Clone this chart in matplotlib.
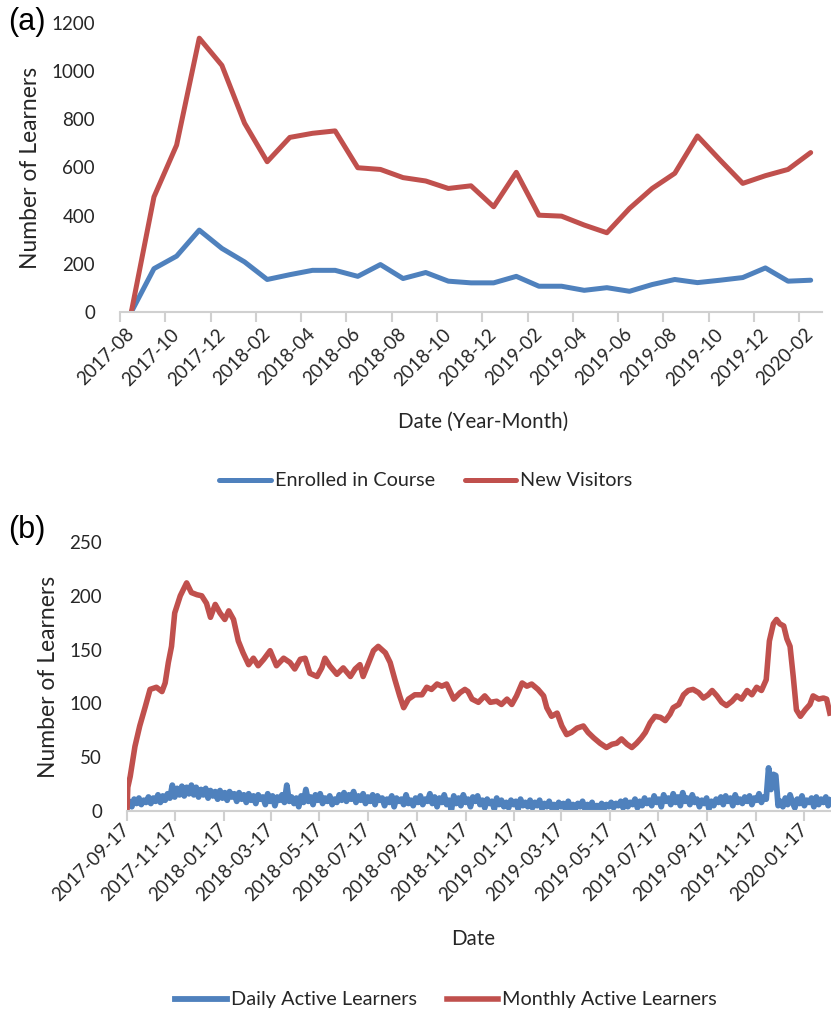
import matplotlib
matplotlib.use("Agg")
import matplotlib.pyplot as plt
import pandas as pd
from datetime import datetime, timedelta

plt.rcParams['font.family'] = ['Lato', 'DejaVu Sans']

# ---- panel (a): monthly counts
months = ["2017-08", "2017-09", "2017-10", "2017-11", "2017-12", "2018-01", "2018-02",
          "2018-03", "2018-04", "2018-05", "2018-06", "2018-07", "2018-08", "2018-09",
          "2018-10", "2018-11", "2018-12", "2019-01", "2019-02", "2019-03", "2019-04",
          "2019-05", "2019-06", "2019-07", "2019-08", "2019-09", "2019-10", "2019-11",
          "2019-12", "2020-01", "2020-02"]
enrolled = [0, 180, 232, 340, 264, 208, 135, 155, 173, 173, 148, 197, 139, 164, 128, 121,
            121, 148, 107, 107, 90, 101, 86, 114, 135, 122, 132, 143, 183, 128, 132]
new_visitors = [0, 478, 693, 1137, 1024, 784, 624, 725, 742, 752, 599, 592, 558, 544, 513,
                524, 437, 580, 402, 398, 361, 329, 430, 513, 576, 731, 631, 534, 566, 592, 662]

# ---- panel (b): daily series
start_day = datetime(2017, 9, 17)
# monthly active learners, read at irregular day offsets from start_day
mal_days = [0, 1, 4, 10, 16, 23, 29, 37, 44, 48, 52, 56, 60, 67, 75, 81, 88, 94, 100, 105,
            111, 117, 123, 128, 134, 140, 146, 153, 159, 165, 172, 180, 188, 197, 205, 211,
            218, 224, 230, 239, 245, 249, 255, 264, 272, 281, 287, 293, 297, 304, 310, 316,
            325, 331, 337, 343, 348, 354, 362, 371, 377, 383, 390, 396, 402, 411, 419, 425,
            429, 434, 442, 450, 457, 465, 471, 478, 484, 490, 497, 503, 509, 517, 524, 528,
            534, 541, 547, 553, 559, 566, 574, 580, 587, 595, 603, 610, 616, 622, 629, 635,
            641, 647, 652, 658, 664, 671, 677, 683, 687, 694, 700, 706, 712, 719, 725, 731,
            736, 742, 748, 754, 761, 767, 773, 780, 786, 792, 798, 804, 808, 813, 817, 821,
            826, 830, 834, 838, 842, 847, 853, 859, 863, 870, 876, 880, 884]
mal_values = [0, 22, 32, 60, 79, 97, 113, 115, 111, 119, 138, 153, 184, 200, 212, 203, 201,
              200, 193, 180, 192, 184, 178, 186, 178, 158, 147, 136, 142, 135, 141, 149, 135,
              142, 138, 132, 141, 142, 128, 125, 133, 142, 135, 127, 133, 125, 132, 136, 125,
              138, 149, 153, 147, 138, 122, 107, 96, 104, 108, 108, 115, 113, 118, 116, 118,
              104, 110, 113, 111, 104, 101, 107, 101, 102, 99, 104, 99, 107, 119, 116, 118,
              113, 107, 96, 88, 91, 79, 71, 73, 77, 79, 73, 68, 63, 59, 62, 63, 67, 62, 59,
              63, 68, 73, 82, 88, 87, 84, 90, 96, 99, 108, 112, 113, 110, 105, 108, 112, 107,
              101, 98, 102, 107, 104, 112, 108, 115, 112, 122, 158, 174, 178, 174, 172, 160,
              153, 125, 94, 88, 94, 99, 107, 104, 105, 104, 91]
# daily active learners, read every 3 days from start_day
dal_step = 3
dal_values = [5, 9, 4, 11, 7, 12, 6, 10, 8, 13,
              7, 12, 9, 15, 8, 14, 10, 16, 12, 24,
              13, 21, 15, 23, 14, 22, 16, 24, 15, 22,
              13, 20, 15, 21, 12, 19, 14, 18, 11, 19,
              12, 17, 10, 18, 13, 16, 9, 17, 11, 15,
              8, 16, 10, 14, 7, 15, 11, 13, 6, 16,
              9, 14, 5, 13, 10, 15, 8, 24, 9, 13,
              7, 12, 4, 14, 8, 20, 9, 13, 6, 15,
              10, 16, 7, 12, 9, 14, 6, 11, 8, 15,
              10, 17, 9, 15, 11, 18, 8, 14, 10, 16,
              7, 13, 9, 15, 6, 14, 10, 12, 5, 11,
              8, 14, 4, 12, 9, 11, 6, 15, 7, 10,
              5, 12, 8, 14, 6, 11, 9, 16, 7, 13,
              4, 12, 8, 15, 6, 10, 1, 14, 7, 12,
              5, 15, 8, 11, 4, 13, 9, 14, 6, 10,
              3, 11, 7, 9, 2, 12, 6, 10, 4, 8,
              3, 10, 6, 9, 2, 11, 5, 8, 4, 10,
              3, 8, 5, 10, 2, 7, 4, 9, 3, 6,
              2, 8, 4, 7, 1, 9, 3, 6, 2, 7,
              4, 9, 2, 6, 3, 8, 1, 5, 3, 7,
              2, 6, 4, 8, 3, 7, 5, 9, 3, 10,
              4, 8, 6, 11, 3, 9, 5, 12, 7, 10,
              5, 14, 8, 11, 4, 15, 9, 12, 6, 16,
              8, 13, 5, 17, 9, 12, 6, 15, 8, 11,
              4, 10, 7, 12, 2, 9, 5, 11, 8, 13,
              6, 14, 9, 12, 5, 15, 8, 11, 7, 13,
              9, 14, 6, 12, 10, 16, 8, 13, 11, 40,
              20, 34, 33, 5, 9, 4, 12, 6, 15, 8,
              3, 11, 7, 14, 5, 10, 8, 12, 4, 13,
              6, 11, 8, 13, 5, 10]
b_ticks = ["2017-09-17", "2017-11-17", "2018-01-17", "2018-03-17", "2018-05-17",
           "2018-07-17", "2018-09-17", "2018-11-17", "2019-01-17", "2019-03-17",
           "2019-05-17", "2019-07-17", "2019-09-17", "2019-11-17", "2020-01-17"]

BLUE = '#4F81BD'
RED = '#C0504D'
TXT = '#262626'
AXC = '#D0D0D0'
LW = 3.6
FS = 13.5
LAB_FS = 16.5
LEG_FS = 14.3

fig = plt.figure(figsize=(8.31, 10.14), dpi=100)

def style_axis(ax):
    for s in ['top', 'right', 'left']:
        ax.spines[s].set_visible(False)
    ax.spines['bottom'].set_color(AXC)
    ax.spines['bottom'].set_linewidth(1.5)
    ax.tick_params(axis='y', length=0, labelsize=FS, labelcolor=TXT, pad=18)
    ax.tick_params(axis='x', which='both', labelsize=FS, labelcolor=TXT, color=AXC, width=1.5)

# panel (a)
ax1 = fig.add_axes([120/831, 1-312/1014, 702/831, 289/1014])
x = list(range(len(months)))
ax1.plot(x, enrolled, color=BLUE, lw=LW, label='Enrolled in Course', solid_capstyle='round')
ax1.plot(x, new_visitors, color=RED, lw=LW, label='New Visitors', solid_capstyle='round')
ax1.set_xlim(-0.5, len(months)-0.5)
ax1.set_ylim(0, 1200)
ax1.set_yticks(range(0, 1201, 200))
style_axis(ax1)
ax1.set_xticks(x[::2])
ax1.set_xticklabels(months[::2], rotation=45, ha='right', va='center', rotation_mode='anchor')
ax1.set_xticks([i - 0.5 for i in x[::2]], minor=True)
ax1.tick_params(axis='x', which='major', length=0, pad=14)
ax1.tick_params(axis='x', which='minor', length=7, direction='out')
ax1.set_xlabel('Date (Year-Month)', fontsize=LEG_FS+0.5, color=TXT)
ax1.xaxis.set_label_coords(0.517, -0.345)
ax1.set_ylabel('Number of Learners', fontsize=LAB_FS, color=TXT)
ax1.yaxis.set_label_coords(-0.112, 0.5)
fig.legend(handles=ax1.get_lines(), loc='center', bbox_to_anchor=(426/831, 1-481/1014),
           ncol=2, frameon=False, fontsize=LEG_FS, handlelength=2.6, handletextpad=0.2,
           columnspacing=1.5, labelcolor=TXT)

# panel (b)
ax2 = fig.add_axes([127/831, 1-811/1014, 704/831, 269/1014])
mal_dates = [start_day + timedelta(days=d) for d in mal_days]
dal_dates = [start_day + timedelta(days=i*dal_step) for i in range(len(dal_values))]
ax2.plot(dal_dates, dal_values, color=BLUE, lw=LW+0.6, label='Daily Active Learners')
ax2.plot(mal_dates, mal_values, color=RED, lw=LW+0.4, label='Monthly Active Learners')
ax2.set_xlim(start_day, start_day + timedelta(days=885.5))
ax2.set_ylim(0, 250)
ax2.set_yticks(range(0, 251, 50))
style_axis(ax2)
ax2.set_xticks([pd.Timestamp(t) for t in b_ticks])
ax2.set_xticklabels(b_ticks, rotation=45, ha='right', va='center', rotation_mode='anchor')
ax2.tick_params(axis='x', which='major', length=7, direction='out', pad=4)
ax2.set_xlabel('Date', fontsize=LEG_FS+0.5, color=TXT)
ax2.xaxis.set_label_coords(0.491, -0.44)
ax2.set_ylabel('Number of Learners', fontsize=LAB_FS, color=TXT)
ax2.yaxis.set_label_coords(-0.097, 0.5)
fig.legend(handles=ax2.get_lines(), loc='center', bbox_to_anchor=(446/831, 1-1000/1014),
           ncol=2, frameon=False, fontsize=LEG_FS, handlelength=2.6, handletextpad=0.2,
           columnspacing=1.5, labelcolor=TXT)

fig.text(8/831, 1-22/1014, '(a)', fontsize=22, family='Liberation Sans', va='center', color='black')
fig.text(8/831, 1-530/1014, '(b)', fontsize=22, family='Liberation Sans', va='center', color='black')

fig.savefig('out.png', dpi=100)
